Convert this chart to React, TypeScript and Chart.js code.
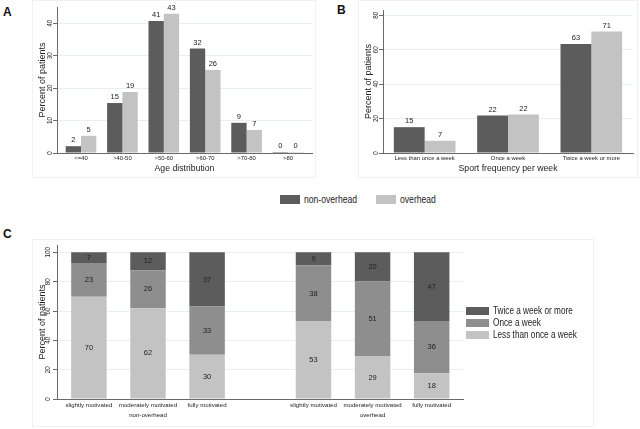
import React, { useEffect, useRef } from "react";
import Chart from "chart.js/auto";

// ---------- data ----------
const ageCategories = ["<=40", ">40-50", ">50-60", ">60-70", ">70-80", ">80"];
const ageNonOverhead = [2.1, 15.4, 40.7, 32.2, 9.3, 0.3];
const ageOverhead = [5.3, 18.8, 42.9, 25.6, 7.1, 0.3];
const ageTicks = [0, 10, 20, 30, 40];

const sportCategories = ["Less than once a week", "Once a week", "Twice a week or more"];
const sportNonOverhead = [15.0, 21.8, 63.2];
const sportOverhead = [7.1, 22.4, 70.5];
const sportTicks = [0, 20, 40, 60, 80];

const motivationLevels = ["slightly motivated", "moderately motivated", "fully motivated"];
const groups = ["non-overhead", "overhead"];
const lessThanOnce = [69.8, 61.8, 30.2, 52.8, 28.9, 17.6];
const onceAWeek = [23.0, 25.9, 32.8, 38.2, 51.2, 35.6];
const twiceOrMore = [7.2, 12.3, 37.0, 9.0, 19.9, 46.8];
const motivationTicks = [0, 20, 40, 60, 80, 100];

// ---------- style ----------
const FONT = "'Liberation Sans', Arial, sans-serif";
const DARK = "#5c5c5c";
const MID = "#8e8e8e";
const LIGHT = "#c3c3c3";
const GRID = "#e8eff1";
const AXIS = "#6a6a6a";
const TEXT = "#222222";
const GROUP_GAP = 0.8;

const valueLabels = {
  id: "valueLabels",
  afterDatasetsDraw(chart: any, _args: any, opts: any) {
    const { ctx } = chart;
    ctx.save();
    ctx.font = `${opts.size || 8}px ${FONT}`;
    ctx.fillStyle = TEXT;
    ctx.textAlign = "center";
    chart.data.datasets.forEach((ds: any, di: number) => {
      const meta = chart.getDatasetMeta(di);
      meta.data.forEach((bar: any, i: number) => {
        const raw = ds.data[i];
        const v = typeof raw === "number" ? raw : raw.y;
        const text = String(Math.round(v));
        if (opts.position === "center") {
          ctx.textBaseline = "middle";
          ctx.fillText(text, bar.x, (bar.y + bar.base) / 2);
        } else {
          ctx.textBaseline = "bottom";
          ctx.fillText(text, bar.x, bar.y - 2);
        }
      });
    });
    ctx.restore();
  },
};

function yAxis(max: number, ticks: number[]) {
  return {
    min: 0,
    max,
    afterBuildTicks: (s: any) => {
      s.ticks = ticks.map((v) => ({ value: v }));
    },
    afterFit: (s: any) => {
      s.width = 25;
    },
    ticks: {
      minRotation: 90,
      maxRotation: 90,
      crossAlign: "center",
      padding: -1,
      color: TEXT,
      font: { family: FONT, size: 6.3 },
    },
    grid: { color: GRID, tickLength: 4, tickColor: AXIS, drawTicks: true },
    border: { display: true, color: AXIS },
    title: {
      display: true,
      text: "Percent of patients",
      color: TEXT,
      font: { family: FONT, size: 9 },
      padding: { top: 5, bottom: 0 },
    },
  };
}

function groupedConfig(cats: string[], a: number[], b: number[], margin: number, max: number, ticks: number[], title: string, padTop: number, padRight: number) {
  const pts = (arr: number[]) => arr.map((y, i) => ({ x: i, y }));
  return {
    type: "bar",
    data: {
      datasets: [
        { label: "non-overhead", data: pts(a), backgroundColor: DARK, categoryPercentage: 0.74, barPercentage: 1.0 },
        { label: "overhead", data: pts(b), backgroundColor: LIGHT, categoryPercentage: 0.74, barPercentage: 1.0 },
      ],
    },
    options: {
      responsive: false,
      animation: false,
      layout: { padding: { left: 0, right: padRight, top: padTop, bottom: 0 } },
      plugins: {
        legend: { display: false },
        tooltip: { enabled: false },
        valueLabels: { position: "top", size: 7.5 },
      },
      scales: {
        x: {
          type: "linear",
          offset: false,
          min: -margin,
          max: cats.length - 1 + margin,
          afterBuildTicks: (s: any) => {
            s.ticks = cats.map((_c, i) => ({ value: i }));
          },
          afterFit: (s: any) => {
            s.height = 25;
          },
          ticks: {
            callback: (_v: any, i: number) => cats[i],
            color: TEXT,
            font: { family: FONT, size: 5.9 },
            padding: 2,
            maxRotation: 0,
            autoSkip: false,
          },
          grid: { display: false, drawTicks: false, offset: false },
          border: { display: true, color: AXIS },
          title: {
            display: true,
            text: title,
            color: TEXT,
            font: { family: FONT, size: 8.7 },
            padding: { top: 0, bottom: 4 },
          },
        },
        y: yAxis(max, ticks),
      },
    },
    plugins: [valueLabels],
  };
}

function motivationConfig() {
  const positions: number[] = [];
  const labels: (string | string[])[] = [];
  groups.forEach((g, gi) => {
    motivationLevels.forEach((m, mi) => {
      positions.push(gi * (motivationLevels.length + GROUP_GAP) + mi);
      labels.push(mi === 1 ? [m, g] : m);
    });
  });
  const toPts = (arr: number[]) => arr.map((y, i) => ({ x: positions[i], y }));
  return {
    type: "bar",
    data: {
      datasets: [
        { label: "Less than once a week", data: toPts(lessThanOnce), backgroundColor: LIGHT, categoryPercentage: 1, barPercentage: 0.6 },
        { label: "Once a week", data: toPts(onceAWeek), backgroundColor: MID, categoryPercentage: 1, barPercentage: 0.6 },
        { label: "Twice a week or more", data: toPts(twiceOrMore), backgroundColor: DARK, categoryPercentage: 1, barPercentage: 0.6 },
      ],
    },
    options: {
      responsive: false,
      animation: false,
      layout: { padding: { left: 0, right: 131, top: 6, bottom: 0 } },
      plugins: {
        legend: { display: false },
        tooltip: { enabled: false },
        valueLabels: { position: "center", size: 7.5 },
      },
      scales: {
        x: {
          type: "linear",
          offset: false,
          min: -0.54,
          max: 6.33,
          stacked: true,
          afterBuildTicks: (s: any) => {
            s.ticks = positions.map((v) => ({ value: v }));
          },
          afterFit: (s: any) => {
            s.height = 28;
          },
          ticks: {
            callback: (_v: any, i: number) => labels[i],
            color: TEXT,
            font: { family: FONT, size: 6.1, lineHeight: 1.78 },
            padding: 0.5,
            maxRotation: 0,
            autoSkip: false,
          },
          grid: { display: false, drawTicks: false, offset: false },
          border: { display: true, color: AXIS },
        },
        y: { ...yAxis(105, motivationTicks), stacked: true },
      },
    },
    plugins: [valueLabels],
  };
}

function ChartBox({ left, top, width, height, make }: { left: number; top: number; width: number; height: number; make: () => any }) {
  const ref = useRef<HTMLCanvasElement>(null);
  useEffect(() => {
    const chart = new Chart(ref.current as HTMLCanvasElement, make());
    return () => chart.destroy();
  }, []);
  return <canvas ref={ref} width={width} height={height} style={{ position: "absolute", left, top, width, height }} />;
}

const panelBox = (left: number, top: number, width: number, height: number): React.CSSProperties => ({
  position: "absolute",
  left,
  top,
  width,
  height,
  boxSizing: "border-box",
  border: "1px solid #eef2f3",
  background: "#ffffff",
});

const panelLetter = (left: number, top: number): React.CSSProperties => ({
  position: "absolute",
  left,
  top,
  fontFamily: FONT,
  fontWeight: "bold",
  fontSize: 12,
  lineHeight: "12px",
  color: "#111",
});

function LegendItem({ left, top, color, text, boxW, boxH, size }: { left: number; top: number; color: string; text: string; boxW: number; boxH: number; size: number }) {
  return (
    <div style={{ position: "absolute", left, top, height: 12, display: "flex", alignItems: "center", whiteSpace: "nowrap" }}>
      <div style={{ width: boxW, height: boxH, background: color, marginRight: 4 }} />
      <span
        style={{
          display: "inline-block",
          fontFamily: FONT,
          fontSize: size,
          color: TEXT,
          lineHeight: "12px",
          transform: "scaleX(0.82)",
          transformOrigin: "left center",
        }}
      >
        {text}
      </span>
    </div>
  );
}

export default function App() {
  Chart.defaults.font.family = FONT;
  return (
    <div style={{ position: "absolute", left: 0, top: 0, width: 640, height: 429, background: "#fff", overflow: "hidden" }}>
      <div style={panelBox(32, 0, 284, 178)} />
      <div style={panelBox(358, 0, 280, 178)} />
      <div style={panelBox(32, 239, 562, 188)} />
      <div style={panelLetter(3, 6)}>A</div>
      <div style={panelLetter(337, 4)}>B</div>
      <div style={panelLetter(3, 228)}>C</div>
      <ChartBox left={32} top={1} width={284} height={177} make={() => groupedConfig(ageCategories, ageNonOverhead, ageOverhead, 0.58, 45, ageTicks, "Age distribution", 6, 4)} />
      <ChartBox left={358} top={1} width={280} height={177} make={() => groupedConfig(sportCategories, sportNonOverhead, sportOverhead, 0.5, 83, sportTicks, "Sport frequency per week", 9, 5)} />
      <LegendItem left={280} top={193} color={DARK} text="non-overhead" boxW={20} boxH={9} size={10.5} />
      <LegendItem left={376} top={193} color={LIGHT} text="overhead" boxW={20} boxH={9} size={10.5} />
      <ChartBox left={32} top={239} width={562} height={188} make={motivationConfig} />
      <LegendItem left={466} top={305} color={DARK} text="Twice a week or more" boxW={23} boxH={8} size={10} />
      <LegendItem left={466} top={317} color={MID} text="Once a week" boxW={23} boxH={8} size={10} />
      <LegendItem left={466} top={329} color={LIGHT} text="Less than once a week" boxW={23} boxH={8} size={10} />
    </div>
  );
}
